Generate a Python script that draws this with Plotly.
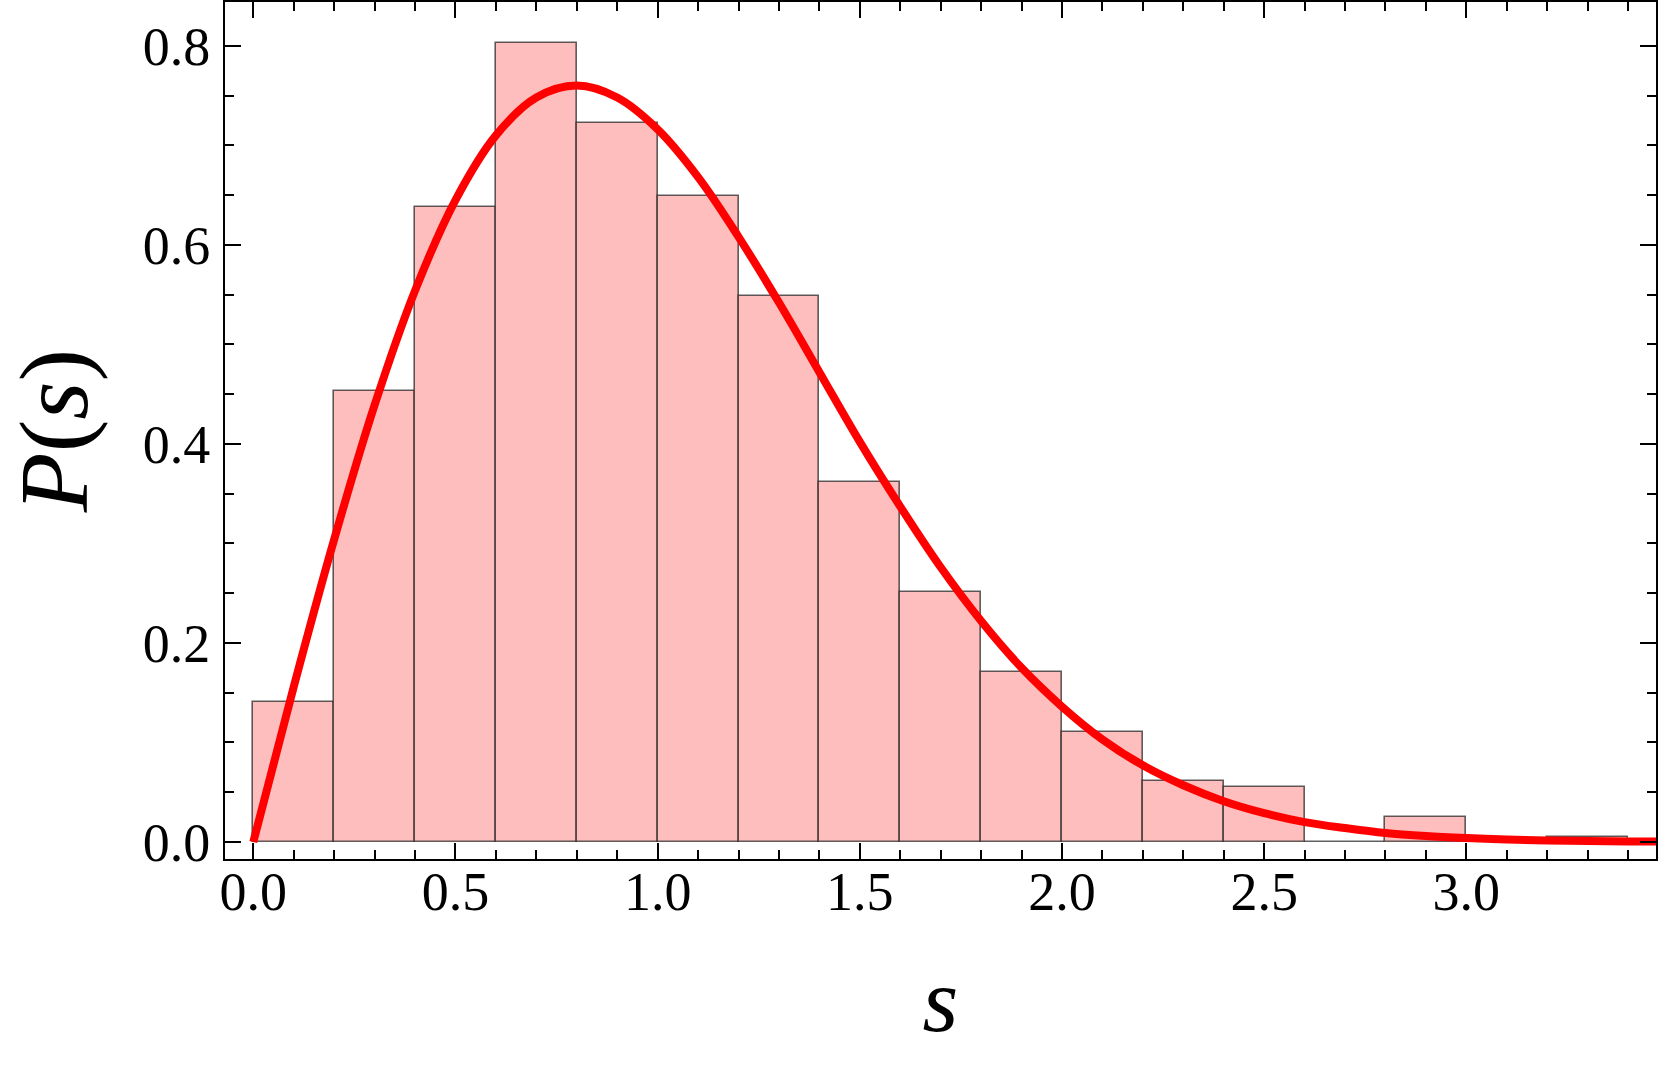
import plotly.graph_objects as go

# histogram bins (width 0.2) and normalised counts
bin_left = [0.0, 0.2, 0.4, 0.6, 0.8, 1.0, 1.2, 1.4, 1.6, 1.8, 2.0, 2.2, 2.4, 2.6, 2.8, 3.0, 3.2]
bin_height = [0.141, 0.453, 0.638, 0.803, 0.722, 0.649, 0.549, 0.362, 0.251, 0.171,
              0.111, 0.061, 0.055, 0.0, 0.025, 0.0, 0.005]
bin_width = 0.2

# red curve
curve_s = [0.0, 0.1, 0.2, 0.3, 0.4, 0.5, 0.6, 0.7, 0.8, 0.9, 1.0, 1.1, 1.2, 1.3, 1.4,
           1.5, 1.6, 1.7, 1.8, 1.9, 2.0, 2.1, 2.2, 2.3, 2.4, 2.5, 2.6, 2.7, 2.8, 2.9,
           3.0, 3.1, 3.2, 3.3, 3.4, 3.5]
curve_p = [0.0, 0.156, 0.304, 0.439, 0.554, 0.645, 0.710, 0.748, 0.760, 0.748, 0.716,
           0.668, 0.608, 0.542, 0.472, 0.402, 0.337, 0.276, 0.222, 0.175, 0.136, 0.103,
           0.077, 0.057, 0.041, 0.029, 0.020, 0.014, 0.009, 0.006, 0.004, 0.0025,
           0.0015, 0.0009, 0.0005, 0.0003]

x_ticks = [0.0, 0.5, 1.0, 1.5, 2.0, 2.5, 3.0]
y_ticks = [0.0, 0.2, 0.4, 0.6, 0.8]

FONT = "Liberation Serif"

fig = go.Figure()
fig.add_trace(go.Bar(
    x=[b + bin_width / 2 for b in bin_left],
    y=bin_height,
    width=bin_width,
    marker=dict(color="rgb(255,190,190)",
                line=dict(color="rgba(30,30,30,0.7)", width=1.6)),
    hoverinfo="skip",
))
fig.add_trace(go.Scatter(
    x=curve_s, y=curve_p, mode="lines",
    line=dict(color="#ff0000", width=8, shape="spline"),
    cliponaxis=True,
))

axis_common = dict(
    showline=True, linecolor="black", linewidth=2, mirror="allticks",
    ticks="inside", ticklen=16, tickwidth=2, tickcolor="black",
    showgrid=False, zeroline=False, automargin=False,
    tickfont=dict(family=FONT, size=54, color="black"),
)

fig.update_layout(
    width=1661, height=1072,
    plot_bgcolor="white", paper_bgcolor="white",
    showlegend=False, bargap=0,
    margin=dict(l=225, r=5, t=2, b=213),
    xaxis=dict(
        **axis_common,
        range=[-0.070, 3.469],
        tickvals=x_ticks, ticktext=[f"{v:.1f}" for v in x_ticks],
        minor=dict(dtick=0.1, tick0=0, ticks="inside", ticklen=9, tickwidth=2, tickcolor="black"),
        ticklabelstandoff=-16,
        title=dict(text="<i>s</i>", font=dict(family=FONT, size=92, color="black"), standoff=46),
    ),
    yaxis=dict(
        **axis_common,
        range=[-0.0171, 0.844],
        tickvals=y_ticks, ticktext=[f"{v:.1f}" for v in y_ticks],
        minor=dict(dtick=0.05, tick0=0, ticks="inside", ticklen=9, tickwidth=2, tickcolor="black"),
        ticklabelstandoff=2,
        title=dict(text="<i>P</i>(<i>s</i>)", font=dict(family=FONT, size=98, color="black"), standoff=25),
    ),
)

# drop the browser's default 8px body margin so the figure sits at the page corner
fig.write_html("out.html", config={"displayModeBar": False},
               post_script="document.body.style.margin='0';")
